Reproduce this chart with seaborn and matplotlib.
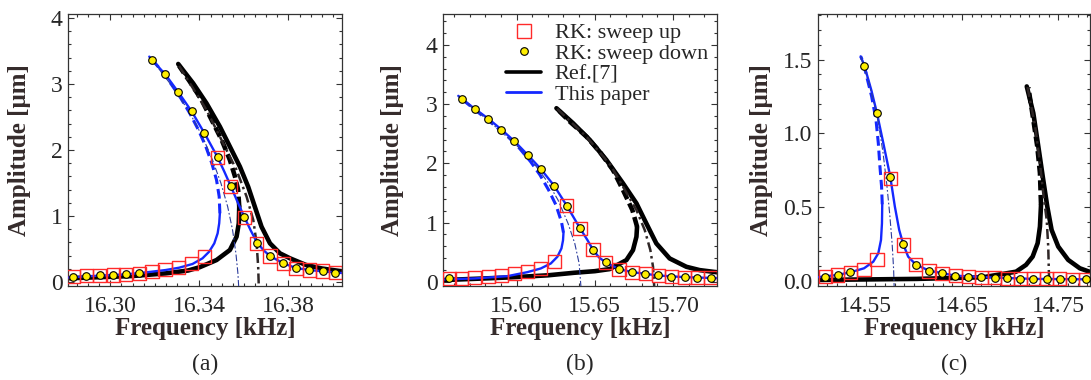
import matplotlib
matplotlib.use("Agg")
import matplotlib.pyplot as plt
import seaborn as sns
from matplotlib.lines import Line2D
from matplotlib.ticker import FixedLocator, MultipleLocator, FormatStrFormatter

# ---------------- panel (a) ----------------
a_sweep_f = [16.2833, 16.2893, 16.2953, 16.3013, 16.3070, 16.3130, 16.3187, 16.3246, 16.3306, 16.3365, 16.3423,
             16.3482, 16.3540, 16.3601, 16.3657, 16.3717, 16.3777, 16.3834, 16.3894, 16.3954, 16.4010]
a_up_amp = [0.081, 0.096, 0.101, 0.106, 0.116, 0.131, 0.162, 0.187, 0.217, 0.278, 0.389,
            1.889, 1.444, 0.975, 0.586, 0.394, 0.283, 0.207, 0.182, 0.167, 0.141]
a_down_amp = [0.081, 0.096, 0.101, 0.106, 0.116, 0.131, 3.364, 3.146, 2.874, 2.591, 2.253,
              1.889, 1.460, 0.990, 0.596, 0.399, 0.293, 0.217, 0.187, 0.167, 0.136]

a_this_upper_f = [16.3175, 16.3249, 16.3309, 16.3366, 16.3423, 16.3482, 16.3512, 16.3540, 16.3571, 16.3601,
                  16.3631, 16.3657, 16.3687, 16.3717, 16.3777, 16.3834, 16.3894, 16.3953, 16.4045]
a_this_upper_amp = [3.414, 3.136, 2.859, 2.581, 2.253, 1.889, 1.672, 1.460, 1.217, 0.990,
                    0.778, 0.611, 0.485, 0.394, 0.283, 0.212, 0.182, 0.162, 0.135]
a_this_lower_f = [16.2805, 16.2890, 16.2980, 16.3070, 16.3160, 16.3249, 16.3309, 16.3369, 16.3414, 16.3444,
                  16.3467, 16.3482, 16.3489, 16.3492]
a_this_lower_amp = [0.066, 0.086, 0.101, 0.116, 0.146, 0.182, 0.217, 0.273, 0.359, 0.460,
                    0.586, 0.738, 0.889, 1.041]
a_this_unst_f = [16.3492, 16.3489, 16.3477, 16.3456, 16.3429, 16.3396, 16.3357, 16.3317, 16.3276, 16.3234, 16.3186]
a_this_unst_amp = [1.041, 1.293, 1.546, 1.798, 2.051, 2.303, 2.556, 2.783, 2.985, 3.187, 3.374]
a_this_bb_f = [16.3182, 16.3279, 16.3354, 16.3414, 16.3459, 16.3497, 16.3527, 16.3549, 16.3564, 16.3573, 16.3577]
a_this_bb_amp = [3.389, 2.960, 2.581, 2.202, 1.849, 1.495, 1.142, 0.788, 0.435, 0.131, -0.10]

a_ref_upper_f = [16.3305, 16.3372, 16.3432, 16.3492, 16.3537, 16.3582, 16.3619, 16.3649, 16.3679, 16.3717,
                 16.3762, 16.3807, 16.3879, 16.3950, 16.4045]
a_ref_upper_amp = [3.303, 3.010, 2.707, 2.354, 2.051, 1.747, 1.444, 1.141, 0.838, 0.586,
                   0.434, 0.359, 0.258, 0.205, 0.160]
a_ref_lower_f = [16.2805, 16.3100, 16.3249, 16.3350, 16.3402, 16.3477, 16.3537, 16.3567, 16.3577, 16.3579]
a_ref_lower_amp = [0.056, 0.091, 0.131, 0.175, 0.225, 0.333, 0.485, 0.687, 0.889, 1.141]
a_ref_unst_f = [16.3579, 16.3574, 16.3560, 16.3537, 16.3500, 16.3455, 16.3410, 16.3357, 16.3309]
a_ref_unst_amp = [1.141, 1.394, 1.596, 1.848, 2.152, 2.455, 2.758, 3.035, 3.273]
a_ref_bb_f = [16.3309, 16.3432, 16.3522, 16.3567, 16.3612, 16.3642, 16.3657, 16.3664, 16.3667]
a_ref_bb_amp = [3.273, 2.606, 2.000, 1.697, 1.293, 0.939, 0.586, 0.232, -0.10]

# ---------------- panel (b) ----------------
b_sweep_f = [15.5570, 15.5651, 15.5734, 15.5819, 15.5904, 15.5987, 15.6072, 15.6155, 15.6240, 15.6321, 15.6406,
             15.6489, 15.6570, 15.6655, 15.6738, 15.6823, 15.6906, 15.6989, 15.7074, 15.7155, 15.7240]
b_up_amp = [0.057, 0.062, 0.068, 0.085, 0.107, 0.136, 0.175, 0.226, 0.338, 1.285, 0.902,
            0.541, 0.327, 0.214, 0.164, 0.136, 0.107, 0.090, 0.079, 0.073, 0.068]
b_down_amp = [0.057, 3.082, 2.919, 2.755, 2.569, 2.372, 2.141, 1.905, 1.623, 1.285, 0.902,
              0.541, 0.327, 0.214, 0.164, 0.136, 0.107, 0.090, 0.079, 0.073, 0.068]

b_this_upper_f = [15.5628, 15.5651, 15.5734, 15.5819, 15.5904, 15.5987, 15.6072, 15.6155, 15.6240, 15.6321,
                  15.6406, 15.6453, 15.6489, 15.6527, 15.6570, 15.6655, 15.6738, 15.6906, 15.7074, 15.7285]
b_this_upper_amp = [3.139, 3.082, 2.919, 2.755, 2.569, 2.372, 2.141, 1.905, 1.623, 1.285,
                    0.902, 0.705, 0.541, 0.412, 0.327, 0.214, 0.164, 0.107, 0.079, 0.062]
b_this_lower_f = [15.5525, 15.5730, 15.5942, 15.6070, 15.6155, 15.6219, 15.6261, 15.6287, 15.6297, 15.6300]
b_this_lower_amp = [0.040, 0.057, 0.096, 0.164, 0.226, 0.310, 0.423, 0.564, 0.700, 0.830]
b_this_unst_f = [15.6300, 15.6287, 15.6252, 15.6205, 15.6150, 15.6090, 15.6020, 15.5945, 15.5855, 15.5760,
                 15.5690, 15.5635]
b_this_unst_amp = [0.830, 1.014, 1.296, 1.550, 1.803, 2.028, 2.250, 2.450, 2.650, 2.850, 3.000, 3.120]
b_this_bb_f = [15.5628, 15.5820, 15.5990, 15.6100, 15.6200, 15.6265, 15.6329, 15.6372, 15.6400, 15.6412]
b_this_bb_amp = [3.139, 2.720, 2.330, 2.040, 1.680, 1.381, 0.987, 0.649, 0.311, -0.10]

b_ref_upper_f = [15.6255, 15.6361, 15.6468, 15.6574, 15.6680, 15.6766, 15.6829, 15.6893, 15.6978, 15.7085,
                 15.7170, 15.7285]
b_ref_upper_amp = [2.930, 2.677, 2.395, 2.057, 1.663, 1.325, 0.987, 0.649, 0.395, 0.254, 0.198, 0.160]
b_ref_lower_f = [15.5525, 15.5942, 15.6200, 15.6368, 15.6500, 15.6595, 15.6702, 15.6744, 15.6766, 15.6770]
b_ref_lower_amp = [0.029, 0.073, 0.110, 0.153, 0.180, 0.215, 0.367, 0.536, 0.761, 0.930]
b_ref_unst_f = [15.6770, 15.6740, 15.6680, 15.6616, 15.6531, 15.6447, 15.6340, 15.6265]
b_ref_unst_amp = [0.930, 1.212, 1.550, 1.888, 2.197, 2.451, 2.704, 2.902]
b_ref_bb_f = [15.6260, 15.6450, 15.6600, 15.6680, 15.6766, 15.6819, 15.6855, 15.6872, 15.6880]
b_ref_bb_amp = [2.920, 2.440, 1.970, 1.606, 1.212, 0.874, 0.536, 0.254, -0.10]

# ---------------- panel (c) ----------------
c_sweep_f = [14.5079, 14.5210, 14.5341, 14.5483, 14.5617, 14.5755, 14.5890, 14.6021, 14.6158, 14.6293, 14.6431,
             14.6565, 14.6700, 14.6838, 14.6969, 14.7107, 14.7241, 14.7379, 14.7517, 14.7648, 14.7786]
c_up_amp = [0.029, 0.041, 0.057, 0.079, 0.147, 0.697, 0.244, 0.109, 0.068, 0.048, 0.036,
            0.029, 0.025, 0.023, 0.018, 0.016, 0.014, 0.014, 0.014, 0.011, 0.011]
c_down_amp = [0.029, 0.041, 0.059, 1.460, 1.138, 0.708, 0.249, 0.111, 0.070, 0.052, 0.036,
              0.029, 0.025, 0.023, 0.018, 0.016, 0.014, 0.014, 0.014, 0.011, 0.011]

c_this_upper_f = [14.5448, 14.5486, 14.5560, 14.5617, 14.5683, 14.5755, 14.5803, 14.5848, 14.5890, 14.5941,
                  14.6021, 14.6158, 14.6431, 14.6838, 14.7241, 14.7835]
c_this_upper_amp = [1.523, 1.460, 1.290, 1.138, 0.935, 0.708, 0.504, 0.346, 0.249, 0.165,
                    0.111, 0.070, 0.036, 0.023, 0.014, 0.011]
c_this_lower_f = [14.4995, 14.5210, 14.5341, 14.5483, 14.5579, 14.5631, 14.5659, 14.5669, 14.5672]
c_this_lower_amp = [0.025, 0.041, 0.059, 0.086, 0.131, 0.188, 0.278, 0.391, 0.520]
c_this_unst_f = [14.5672, 14.5665, 14.5648, 14.5631, 14.5607, 14.5562, 14.5510, 14.5476, 14.5448]
c_this_unst_amp = [0.520, 0.640, 0.776, 0.935, 1.093, 1.251, 1.387, 1.478, 1.523]
c_this_bb_f = [14.5448, 14.5540, 14.5620, 14.5680, 14.5720, 14.5750, 14.5775, 14.5790, 14.5796]
c_this_bb_amp = [1.523, 1.330, 1.120, 0.870, 0.650, 0.450, 0.250, 0.080, -0.05]

c_ref_upper_f = [14.7173, 14.7241, 14.7293, 14.7344, 14.7386, 14.7431, 14.7500, 14.7603, 14.7724, 14.7835]
c_ref_upper_amp = [1.319, 1.138, 0.912, 0.686, 0.505, 0.346, 0.233, 0.143, 0.086, 0.060]
c_ref_lower_f = [14.4995, 14.6028, 14.6717, 14.7062, 14.7165, 14.7234, 14.7286, 14.7310, 14.7321]
c_ref_lower_amp = [0.007, 0.014, 0.025, 0.063, 0.109, 0.165, 0.256, 0.369, 0.515]
c_ref_unst_f = [14.7321, 14.7310, 14.7282, 14.7241, 14.7190]
c_ref_unst_amp = [0.515, 0.731, 0.912, 1.093, 1.312]
c_ref_bb_f = [14.7180, 14.7260, 14.7310, 14.7344, 14.7380, 14.7396, 14.7407]
c_ref_bb_amp = [1.315, 1.050, 0.800, 0.595, 0.414, 0.233, -0.05]

# ticks / labels
a_xticks = [16.30, 16.34, 16.38]
b_xticks = [15.60, 15.65, 15.70]
c_xticks = [14.55, 14.65, 14.75]
ab_yticks = [0, 1, 2, 3, 4]
c_yticks = [0.0, 0.5, 1.0, 1.5]
legend_labels = ["RK: sweep up", "RK: sweep down", "Ref.[7]", "This paper"]
panel_names = ["(a)", "(b)", "(c)"]

sns.set_style("ticks")
plt.rcParams['font.family'] = ['Liberation Serif', 'DejaVu Serif']

BLUE = '#1428ff'
BB_BLUE = '#2c3c9c'
RED = '#ff2a2a'
YEL = '#ffee00'
LABEL_C = '#352b2b'

fig = plt.figure(figsize=(10.91, 3.8), dpi=100)
ax_a = fig.add_axes([0.0623, 0.2474, 0.2511, 0.7158])
ax_b = fig.add_axes([0.4060, 0.2474, 0.2511, 0.7158])
ax_c = fig.add_axes([0.7498, 0.2474, 0.2493, 0.7158])


def curve(ax, f, amp, color, lw, ls='-', z=2):
    sns.lineplot(x=f, y=amp, ax=ax, sort=False, estimator=None, color=color,
                 linewidth=lw, linestyle=ls, zorder=z, legend=False)


def draw_panel(ax, sweep_f, up, down, t_up, t_upa, t_lo, t_loa, t_un, t_una, t_bb, t_bba,
               r_up, r_upa, r_lo, r_loa, r_un, r_una, r_bb, r_bba):
    # Ref.[7] (black)
    curve(ax, r_lo, r_loa, 'black', 3.3, z=2)
    curve(ax, r_up, r_upa, 'black', 3.3, z=2)
    curve(ax, r_un, r_una, 'black', 3.3, (0, (2.2, 1.0)), z=2)
    curve(ax, r_bb, r_bba, '#2e2626', 1.8, (0, (4.0, 1.6, 1.0, 1.6)), z=2)
    # This paper (blue)
    curve(ax, t_lo, t_loa, BLUE, 1.7, z=3)
    curve(ax, t_up, t_upa, BLUE, 1.7, z=3)
    curve(ax, t_un, t_una, BLUE, 2.2, (0, (3.2, 1.6)), z=3)
    curve(ax, t_bb, t_bba, BB_BLUE, 0.8, (0, (6, 2, 1.5, 2)), z=3)
    # Runge-Kutta sweeps
    sns.scatterplot(x=sweep_f, y=up, ax=ax, marker='s', s=90, facecolors='none',
                    edgecolor=RED, linewidth=1.0, zorder=5, legend=False)
    sns.scatterplot(x=sweep_f, y=down, ax=ax, marker='o', s=30, color=YEL,
                    edgecolor='black', linewidth=0.8, zorder=6, legend=False)


draw_panel(ax_a, a_sweep_f, a_up_amp, a_down_amp,
           a_this_upper_f, a_this_upper_amp, a_this_lower_f, a_this_lower_amp,
           a_this_unst_f, a_this_unst_amp, a_this_bb_f, a_this_bb_amp,
           a_ref_upper_f, a_ref_upper_amp, a_ref_lower_f, a_ref_lower_amp,
           a_ref_unst_f, a_ref_unst_amp, a_ref_bb_f, a_ref_bb_amp)
draw_panel(ax_b, b_sweep_f, b_up_amp, b_down_amp,
           b_this_upper_f, b_this_upper_amp, b_this_lower_f, b_this_lower_amp,
           b_this_unst_f, b_this_unst_amp, b_this_bb_f, b_this_bb_amp,
           b_ref_upper_f, b_ref_upper_amp, b_ref_lower_f, b_ref_lower_amp,
           b_ref_unst_f, b_ref_unst_amp, b_ref_bb_f, b_ref_bb_amp)
draw_panel(ax_c, c_sweep_f, c_up_amp, c_down_amp,
           c_this_upper_f, c_this_upper_amp, c_this_lower_f, c_this_lower_amp,
           c_this_unst_f, c_this_unst_amp, c_this_bb_f, c_this_bb_amp,
           c_ref_upper_f, c_ref_upper_amp, c_ref_lower_f, c_ref_lower_amp,
           c_ref_unst_f, c_ref_unst_amp, c_ref_bb_f, c_ref_bb_amp)

ax_a.set_xlim(16.281, 16.404)
ax_a.set_ylim(-0.06, 4.06)
ax_b.set_xlim(15.553, 15.728)
ax_b.set_ylim(-0.07, 4.52)
ax_c.set_xlim(14.5005, 14.783)
ax_c.set_ylim(-0.034, 1.81)

setup = [
    (ax_a, a_xticks, 0.005, ab_yticks, 0.2, '%.2f', '%d', -0.135),
    (ax_b, b_xticks, 0.01, ab_yticks, 0.2, '%.2f', '%d', -0.142),
    (ax_c, c_xticks, 0.01, c_yticks, 0.1, '%.2f', '%.1f', -0.165),
]
for ax, xt, xminor, yt, yminor, xfmt, yfmt, ylab_x in setup:
    ax.xaxis.set_major_locator(FixedLocator(xt))
    ax.xaxis.set_minor_locator(MultipleLocator(xminor))
    ax.yaxis.set_major_locator(FixedLocator(yt))
    ax.yaxis.set_minor_locator(MultipleLocator(yminor))
    ax.xaxis.set_major_formatter(FormatStrFormatter(xfmt))
    ax.yaxis.set_major_formatter(FormatStrFormatter(yfmt))
    ax.tick_params(which='both', direction='in', top=True, right=True, labelsize=17,
                   color='#333333', width=0.8)
    ax.tick_params(which='major', length=4.5)
    ax.tick_params(which='minor', length=2.2)
    ax.tick_params(axis='x', which='major', pad=7)
    ax.tick_params(axis='y', which='major', pad=4)
    for sp in ax.spines.values():
        sp.set_visible(True)
        sp.set_linewidth(0.9)
        sp.set_color('#333333')
    ax.set_xlabel('Frequency [kHz]', fontsize=18, fontweight='bold', color=LABEL_C)
    ax.set_ylabel('Amplitude [μm]', fontsize=18, fontweight='bold', color=LABEL_C)
    ax.xaxis.set_label_coords(0.5, -0.115)
    ax.yaxis.set_label_coords(ylab_x, 0.5)

for ax, name in zip([ax_a, ax_b, ax_c], panel_names):
    pos = ax.get_position()
    fig.text(pos.x0 + pos.width / 2, 0.04, name, ha='center', va='center', fontsize=17)

handles = [
    Line2D([], [], marker='s', linestyle='none', markerfacecolor='none', markeredgecolor=RED,
           markersize=9.5, markeredgewidth=1.0),
    Line2D([], [], marker='o', linestyle='none', markerfacecolor=YEL, markeredgecolor='black',
           markersize=5.5, markeredgewidth=0.8),
    Line2D([], [], color='black', linewidth=2.6),
    Line2D([], [], color=BLUE, linewidth=2.0),
]
ax_b.legend(handles, legend_labels, loc='upper right', frameon=False, fontsize=16,
            labelspacing=0.0, handlelength=1.6, handletextpad=0.6, borderaxespad=0.15,
            borderpad=0.25)

plt.savefig('out.png', dpi=100)
